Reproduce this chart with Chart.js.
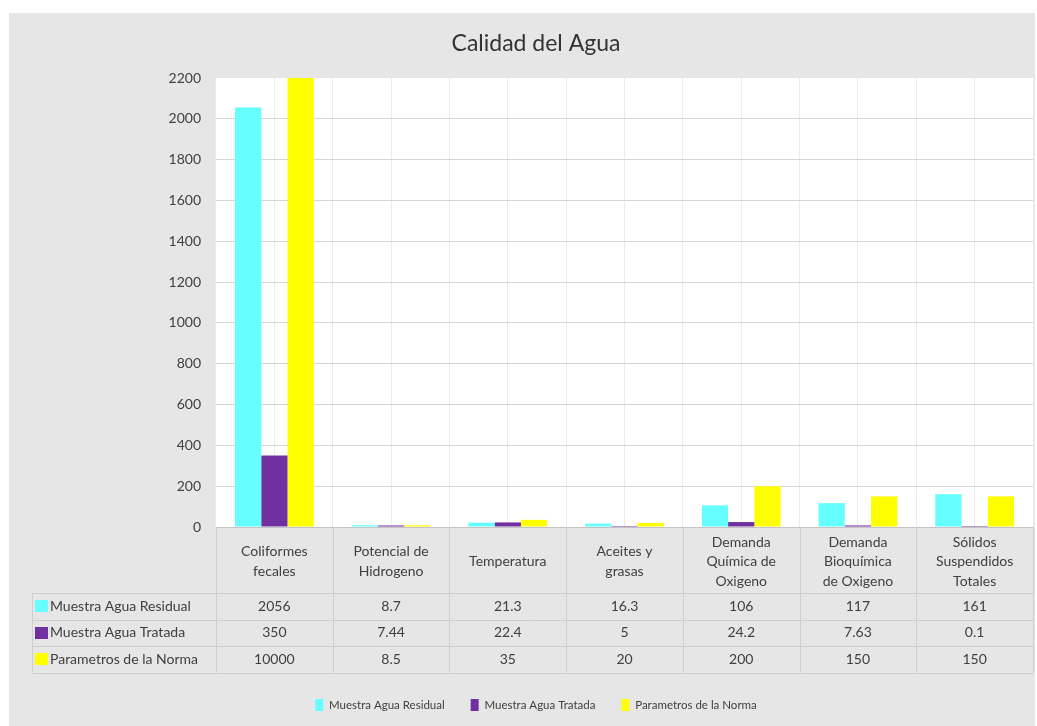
<!DOCTYPE html>
<html><head><meta charset="utf-8">
<script src="https://cdn.jsdelivr.net/npm/chart.js@4.4.0/dist/chart.umd.min.js"></script>
<style>
html,body{margin:0;padding:0;background:#fff;width:1037px;height:726px;overflow:hidden}
#wrap{position:absolute;left:9px;top:13px;width:1026px;height:713px;background:#e6e6e6}
canvas{display:block}
</style></head><body>
<div id="wrap"><canvas id="c" width="1026" height="713"></canvas></div>
<script>
const categories = [["Coliformes","fecales"],["Potencial de","Hidrogeno"],["Temperatura"],["Aceites y","grasas"],["Demanda","Química de","Oxigeno"],["Demanda","Bioquímica","de Oxigeno"],["Sólidos","Suspendidos","Totales"]];
const seriesNames = ["Muestra Agua Residual","Muestra Agua Tratada","Parametros de la Norma"];
const aguaResidual = [2056, 8.7, 21.3, 16.3, 106, 117, 161];
const aguaTratada = [350, 7.44, 22.4, 5, 24.2, 7.63, 0.1];
const parametrosNorma = [10000, 8.5, 35, 20, 200, 150, 150];
const seriesColors = ["#66FFFF", "#7030A0", "#FFFF00"];
const yMin = 0, yMax = 2200, yStep = 200;

const FONT = "Lato, 'Open Sans', sans-serif";
const TEXT = "#404040";

const tablePlugin = {
  id: 'dataTable',
  beforeDraw(chart) {
    const {ctx, chartArea: a} = chart;
    ctx.save();
    ctx.fillStyle = '#ffffff';
    ctx.fillRect(a.left, a.top, a.right - a.left, a.bottom - a.top);
    ctx.restore();
  },
  afterDraw(chart) {
    const ctx = chart.ctx, xs = chart.scales.x, a = chart.chartArea;
    const n = categories.length;
    const headerBottom = a.bottom + 66;
    const rowH = 26.5;
    const tableLeft = 23;
    const tableRight = xs.getPixelForValue(n - 0.5);
    const tableBottom = headerBottom + rowH * 3;
    const series = [aguaResidual, aguaTratada, parametrosNorma];
    ctx.save();
    ctx.strokeStyle = '#cfcfcf';
    ctx.lineWidth = 1;
    ctx.beginPath();
    for (let i = 0; i <= n; i++) {
      const bx = Math.round(xs.getPixelForValue(i - 0.5)) + 0.5;
      ctx.moveTo(bx, a.bottom);
      ctx.lineTo(bx, tableBottom);
    }
    ctx.moveTo(tableLeft + 0.5, headerBottom);
    ctx.lineTo(tableLeft + 0.5, tableBottom);
    for (let r = 0; r <= 3; r++) {
      const yy = Math.round(headerBottom + r * rowH) + 0.5;
      ctx.moveTo(tableLeft, yy);
      ctx.lineTo(tableRight, yy);
    }
    ctx.stroke();
    ctx.font = "14px " + FONT;
    ctx.fillStyle = TEXT;
    ctx.textBaseline = 'middle';
    for (let r = 0; r < 3; r++) {
      const cy = headerBottom + r * rowH + rowH / 2;
      ctx.fillStyle = seriesColors[r];
      ctx.fillRect(26, Math.round(cy - 6), 13, 12);
      ctx.fillStyle = TEXT;
      ctx.textAlign = 'left';
      ctx.fillText(seriesNames[r], 41, cy);
      ctx.textAlign = 'center';
      for (let i = 0; i < n; i++) {
        ctx.fillText(String(series[r][i]), xs.getPixelForValue(i), cy);
      }
    }
    ctx.restore();
  }
};

const common = {categoryPercentage: 0.675, barPercentage: 1.0, borderWidth: 0};
new Chart(document.getElementById('c'), {
  type: 'bar',
  data: {
    labels: categories,
    datasets: [
      Object.assign({label: seriesNames[0], data: aguaResidual, backgroundColor: seriesColors[0]}, common),
      Object.assign({label: seriesNames[1], data: aguaTratada, backgroundColor: seriesColors[1]}, common),
      Object.assign({label: seriesNames[2], data: parametrosNorma, backgroundColor: seriesColors[2]}, common)
    ]
  },
  options: {
    responsive: false,
    animation: false,
    devicePixelRatio: 1,
    layout: {padding: {top: 0, left: 30, right: 2, bottom: 5}},
    plugins: {
      title: {display: true, text: 'Calidad del Agua', color: '#333333',
        font: {family: FONT, size: 23, weight: 'normal'}, padding: {top: 17, bottom: 20.4}},
      legend: {position: 'bottom', labels: {font: {family: FONT, size: 11.5}, color: TEXT,
        boxWidth: 8, boxHeight: 12, padding: 26}},
      tooltip: {enabled: false}
    },
    scales: {
      x: {
        offset: true,
        grid: {offset: true, color: '#ececec', drawTicks: false},
        border: {color: '#c4c4c4'},
        ticks: {padding: 15, autoSkip: false, maxRotation: 0, minRotation: 0, crossAlign: 'center',
          color: TEXT, font: {family: FONT, size: 14, lineHeight: 1.4}},
        afterFit(s) { s.height = 146; }
      },
      x2: {
        type: 'category', labels: categories, offset: true, position: 'bottom',
        grid: {offset: false, color: '#ececec', drawTicks: false},
        border: {display: false},
        ticks: {display: false},
        afterFit(s) { s.height = 0; }
      },
      y: {
        min: yMin, max: yMax,
        ticks: {stepSize: yStep, padding: 15, color: TEXT, font: {family: FONT, size: 14},
          callback: v => String(v)},
        grid: {color: c => (c.tick && c.tick.value === yMax) ? 'rgba(0,0,0,0)' : '#d6d6d6', drawTicks: false},
        border: {display: false},
        afterFit(s) { s.width = 177; }
      }
    }
  },
  plugins: [tablePlugin]
});
</script>
</body></html>
